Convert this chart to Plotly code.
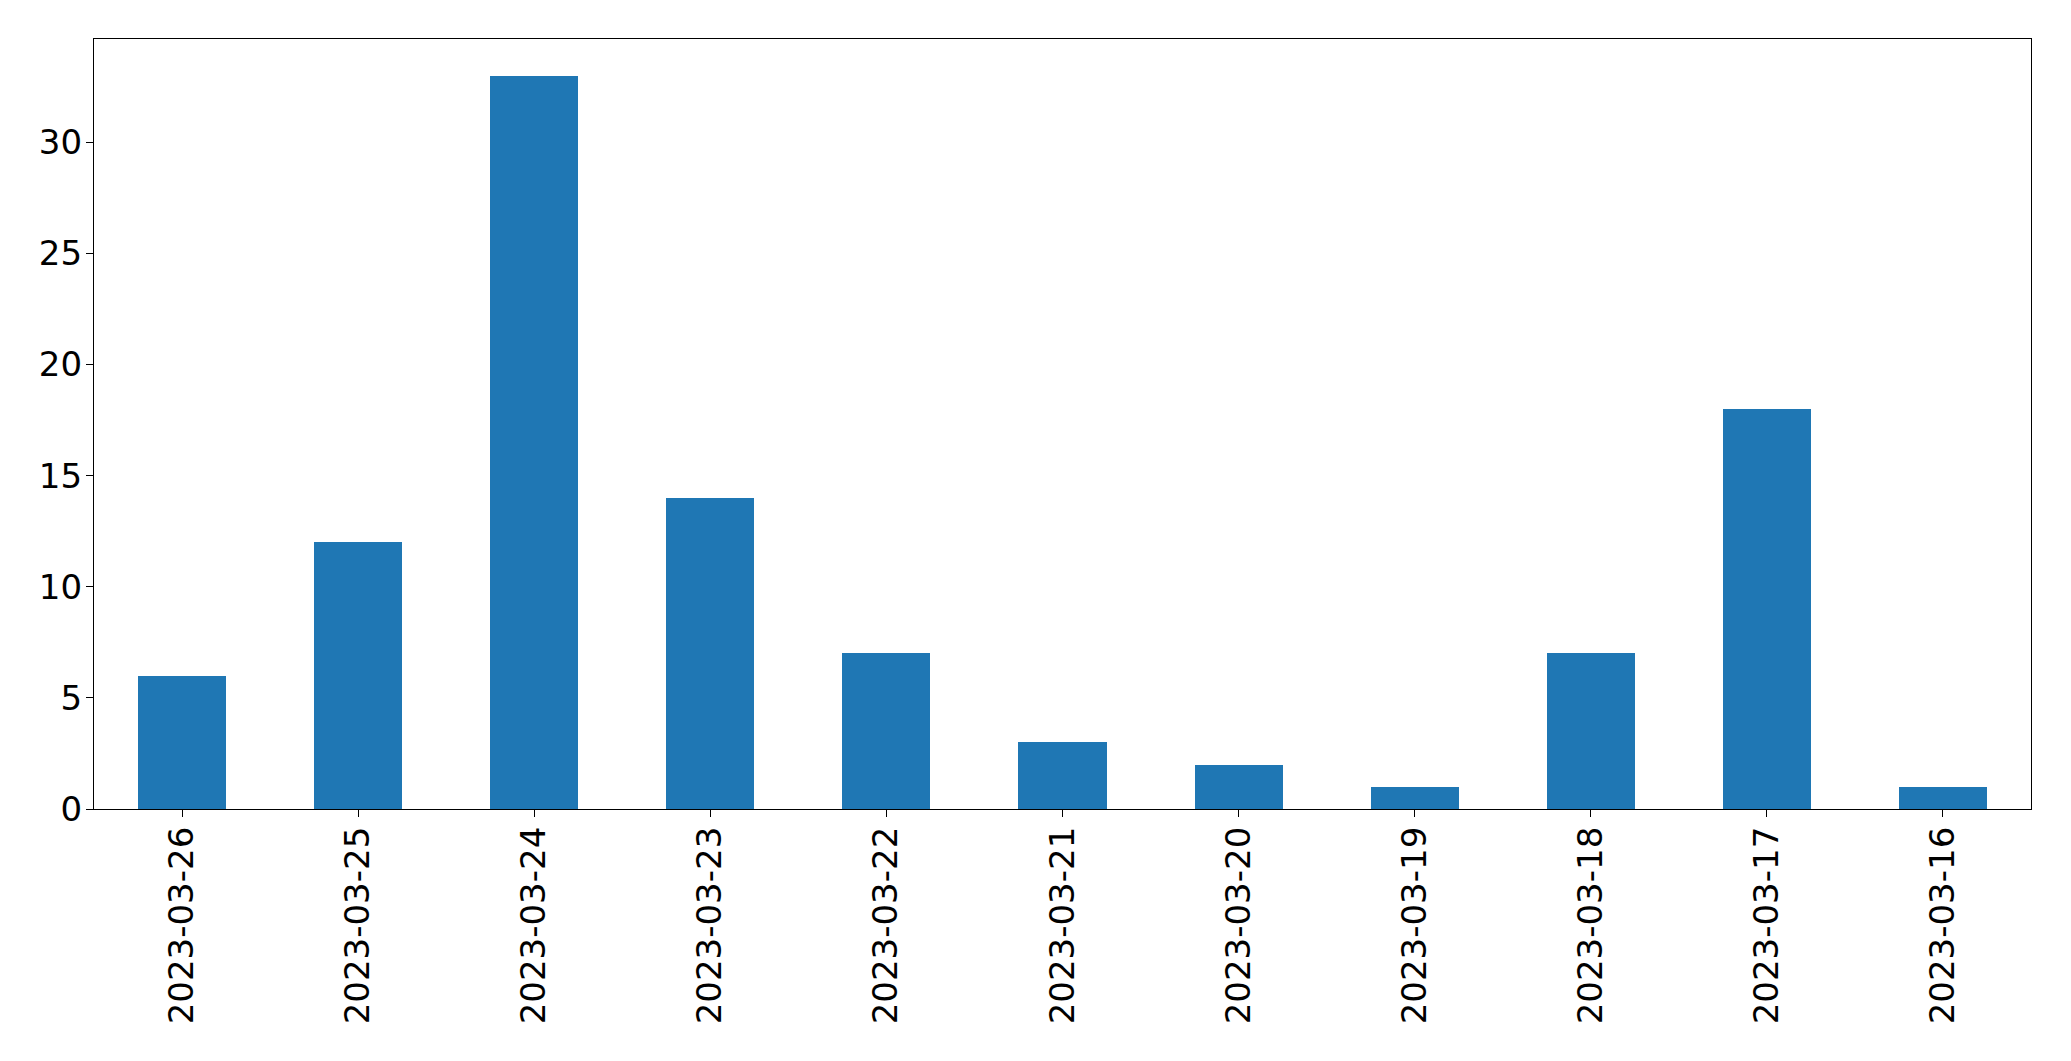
import plotly.graph_objects as go

dates = ["2023-03-26", "2023-03-25", "2023-03-24", "2023-03-23", "2023-03-22",
         "2023-03-21", "2023-03-20", "2023-03-19", "2023-03-18", "2023-03-17",
         "2023-03-16"]
counts = [6, 12, 33, 14, 7, 3, 2, 1, 7, 18, 1]
y_ticks = [0, 5, 10, 15, 20, 25, 30]

fig = go.Figure(go.Bar(x=dates, y=counts, width=0.5, marker=dict(color="#1f77b4", line=dict(width=0))))

font = dict(family="DejaVu Sans", size=34, color="black")
fig.update_layout(
    width=2063, height=1053,
    margin=dict(l=86, r=40, t=31, b=252, autoexpand=False),
    paper_bgcolor="white", plot_bgcolor="white",
    showlegend=False, bargap=0,
    font=font,
)
fig.update_xaxes(
    type="category", range=[-0.5, 10.5], tickangle=-90,
    showline=True, linecolor="black", linewidth=1.3, mirror=True,
    ticks="outside", ticklen=7, tickwidth=1.3, tickcolor="black",
    showgrid=False, zeroline=False, tickfont=font, ticklabelstandoff=-4,
)
fig.update_yaxes(
    range=[0, 34.65], tickvals=y_ticks,
    showline=True, linecolor="black", linewidth=1.3, mirror=True,
    ticks="outside", ticklen=7, tickwidth=1.3, tickcolor="black",
    showgrid=False, zeroline=False, tickfont=font, ticklabelstandoff=-3,
)
fig.write_html("out.html")
